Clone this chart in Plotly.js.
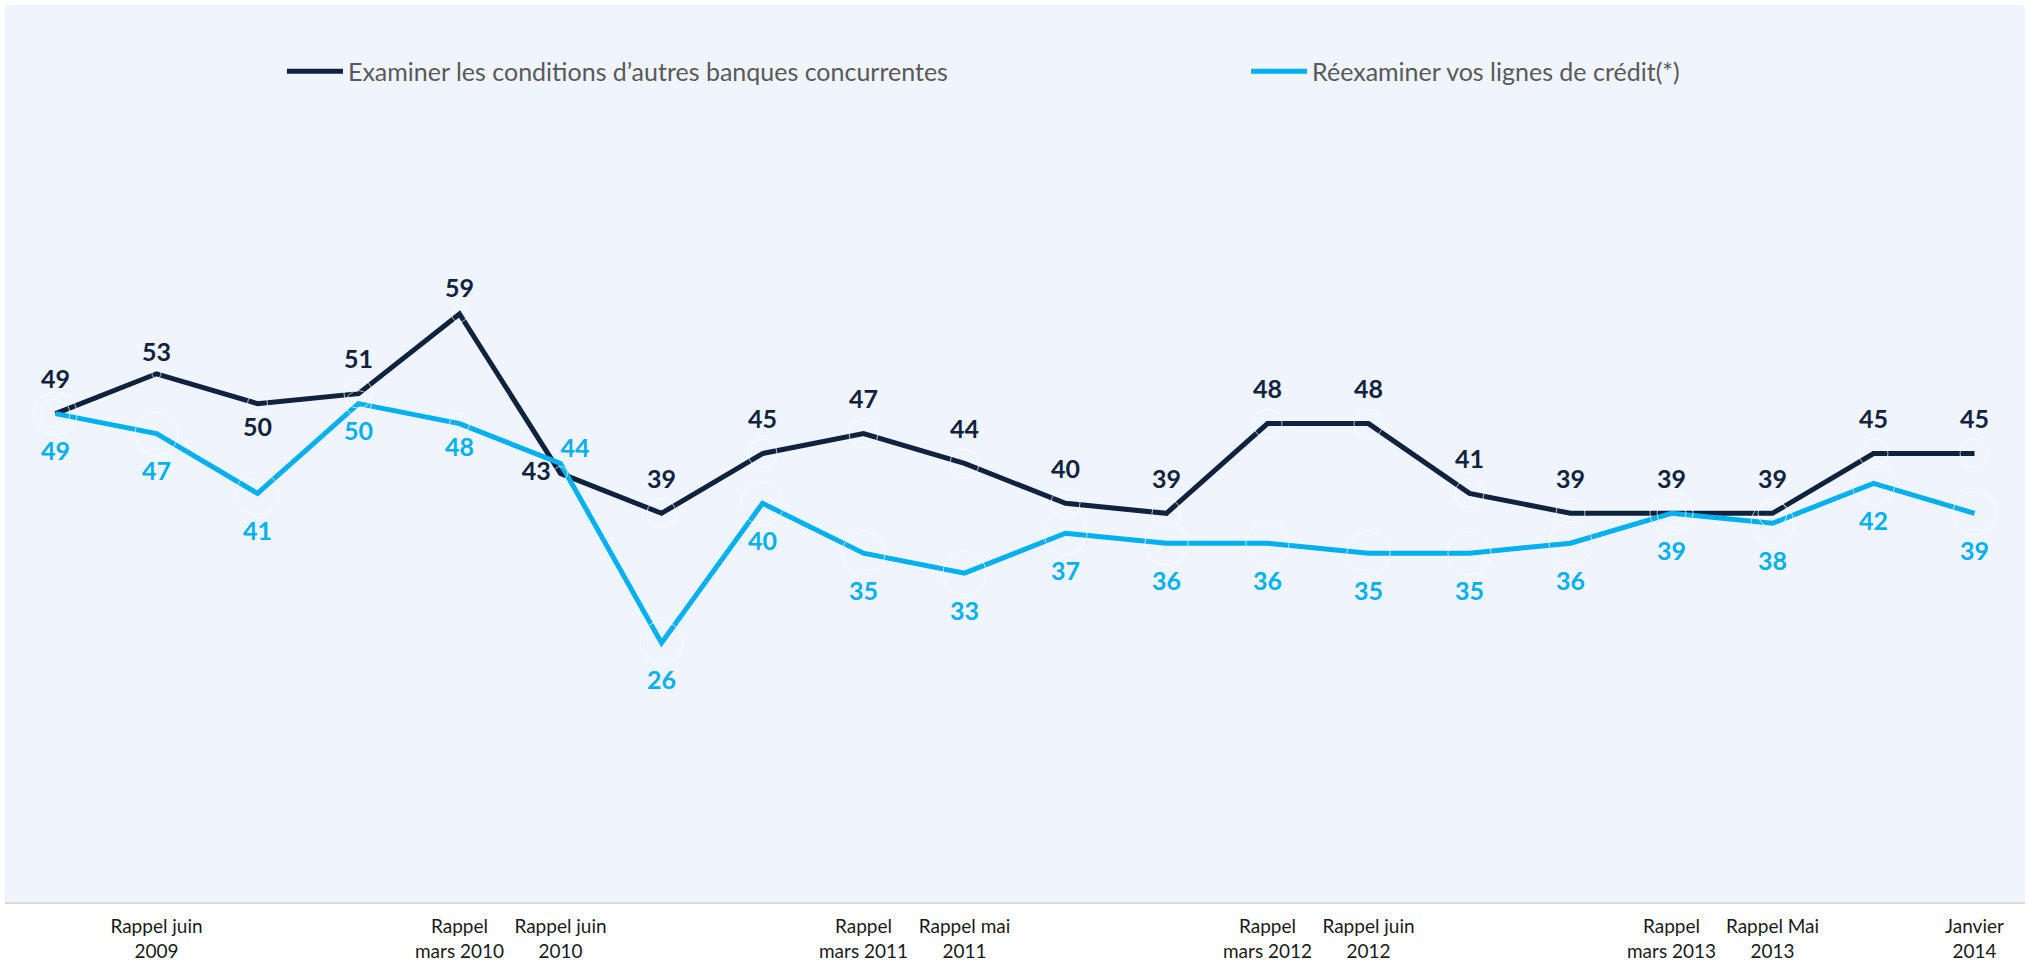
<!DOCTYPE html>
<html>
<head>
<meta charset="utf-8">
<script src="https://cdn.plot.ly/plotly-3.0.1.min.js"></script>
<style>
html,body{margin:0;padding:0;background:#ffffff;}
#chart{width:2029px;height:966px;}
</style>
</head>
<body>
<div id="chart"></div>
<script>
// ---- data ----
const categories = [
  "", "Rappel juin<br>2009", "", "", "Rappel<br>mars 2010", "Rappel juin<br>2010",
  "", "", "Rappel<br>mars 2011", "Rappel mai<br>2011", "", "",
  "Rappel<br>mars 2012", "Rappel juin<br>2012", "", "", "Rappel<br>mars 2013",
  "Rappel Mai<br>2013", "", "Janvier<br>2014"
];
const seriesNames = [
  "Examiner les conditions d\u2019autres banques concurrentes",
  "R\u00e9examiner vos lignes de cr\u00e9dit(*)"
];
const examinerConditions = [49, 53, 50, 51, 59, 43, 39, 45, 47, 44, 40, 39, 48, 48, 41, 39, 39, 39, 45, 45];
const reexaminerLignes  = [49, 47, 41, 50, 48, 44, 26, 40, 35, 33, 37, 36, 36, 35, 35, 36, 39, 38, 42, 39];

// ---- styling ----
const DARK = "#0F233F";
const LIGHT = "#00B0F0";
const FONT = "Lato, 'Open Sans', sans-serif";
const xIdx = categories.map((_, i) => i);

const lineTrace = (y, name, color, legendId) => ({
  x: xIdx, y: y, name: name, type: "scatter", mode: "lines",
  line: {color: color, width: 5}, hoverinfo: "x+y", legend: legendId
});

// label placement (style only): position and invisible-marker size that sets the text offset
const darkPlace = {1: ["top center", 9], 2: ["bottom center", 20], 4: ["top center", 16], 5: ["middle left", 14]};
const lightPlace = {3: ["bottom center", 26], 4: ["bottom center", 20], 5: ["top right", 0]};
const darkPos = xIdx.map(i => darkPlace[i] ? darkPlace[i][0] : "top center");
const darkSize = xIdx.map(i => darkPlace[i] ? darkPlace[i][1] : 29);
const lightPos = xIdx.map(i => lightPlace[i] ? lightPlace[i][0] : "bottom center");
const lightSize = xIdx.map(i => lightPlace[i] ? lightPlace[i][1] : 43);

const labelTrace = (y, color, pos, size) => ({
  x: xIdx, y: y, type: "scatter", mode: "markers+text",
  text: y.map(String), textposition: pos,
  textfont: {family: FONT, size: 25, color: color, weight: 700},
  marker: {size: size, color: "rgba(0,0,0,0)"},
  showlegend: false, hoverinfo: "skip", cliponaxis: false
});

const data = [
  lineTrace(examinerConditions, seriesNames[0], DARK, "legend"),
  lineTrace(reexaminerLignes, seriesNames[1], LIGHT, "legend2"),
  labelTrace(examinerConditions, DARK, darkPos, darkSize),
  labelTrace(reexaminerLignes, LIGHT, lightPos, lightSize)
];

const legendStyle = (x) => ({
  orientation: "h", x: x, xanchor: "left", y: 0.926, yanchor: "middle",
  bgcolor: "rgba(0,0,0,0)", font: {family: FONT, size: 25, color: "#595959"},
  itemwidth: 56
});

const layout = {
  width: 2029, height: 966,
  margin: {l: 5, r: 4, t: 5, b: 64},
  paper_bgcolor: "#ffffff",
  plot_bgcolor: "#EFF4FD",
  font: {family: FONT, color: "#1a1a1a"},
  showlegend: true,
  legend: legendStyle(0.1371),
  legend2: legendStyle(0.6144),
  xaxis: {
    range: [-0.5, 19.5], tickmode: "array", tickvals: xIdx, ticktext: categories,
    showgrid: false, zeroline: false, showline: true, linecolor: "#D9D9D9", linewidth: 2,
    ticks: "", tickfont: {family: FONT, size: 19, color: "#1a1a1a"},
    ticklabelstandoff: 6, fixedrange: true
  },
  yaxis: {
    range: [0, 90], showgrid: false, zeroline: false, showline: false,
    showticklabels: false, ticks: "", fixedrange: true
  }
};

Plotly.newPlot("chart", data, layout, {displayModeBar: false, staticPlot: true});
</script>
</body>
</html>
